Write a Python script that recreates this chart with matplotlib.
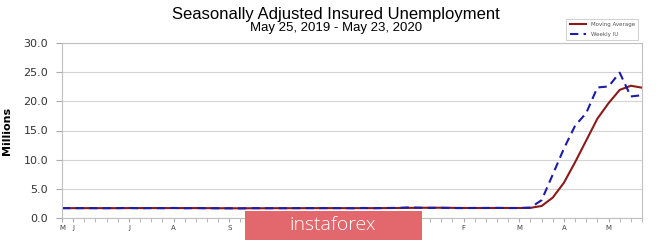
import matplotlib.pyplot as plt
from matplotlib.patches import Rectangle
import numpy as np

# weekly values, week ending May 25 2019 .. May 23 2020 (millions)
weekly_iu = [1.695, 1.688, 1.695, 1.686, 1.686, 1.698, 1.723, 1.676, 1.699, 1.684,
             1.726, 1.674, 1.698, 1.676, 1.670, 1.661, 1.650, 1.689, 1.684, 1.679,
             1.682, 1.690, 1.692, 1.689, 1.698, 1.693, 1.667, 1.722, 1.678, 1.722,
             1.728, 1.806, 1.765, 1.731, 1.747, 1.703, 1.698, 1.726, 1.724, 1.733,
             1.703, 1.702, 1.784, 3.059, 7.446, 11.914, 15.819, 17.992, 22.377, 22.548,
             24.912, 20.838, 21.052]
moving_avg = [1.69, 1.69, 1.69, 1.69, 1.69, 1.69, 1.70, 1.70, 1.70, 1.70,
              1.70, 1.70, 1.70, 1.69, 1.68, 1.67, 1.66, 1.67, 1.67, 1.68,
              1.68, 1.68, 1.69, 1.69, 1.69, 1.69, 1.69, 1.69, 1.69, 1.70,
              1.71, 1.73, 1.75, 1.76, 1.76, 1.74, 1.72, 1.71, 1.71, 1.72,
              1.72, 1.72, 1.74, 2.06, 3.50, 6.05, 9.56, 13.29, 17.03, 19.68,
              21.96, 22.67, 22.34]
weeks = np.arange(len(weekly_iu))

# first week of each month gets a letter (O..J sit under the watermark)
month_weeks = [0, 1, 6, 10, 15, 19, 23, 28, 32, 36, 41, 45, 49]
month_letters = ['M', 'J', 'J', 'A', 'S', '', '', '', '', 'F', 'M', 'A', 'M']
y_ticks = [0, 5, 10, 15, 20, 25, 30]

fig = plt.figure(figsize=(6.65, 2.42), dpi=100)
ax = fig.add_axes([62/665, 1 - 218/242, 580/665, 175/242])

ax.plot(weeks, moving_avg, color='#8b1a1a', lw=1.5, label='Moving Average')
ax.plot(weeks, weekly_iu, color='#1c1ca8', lw=1.5, ls=(0, (4, 2.5)), label='Weekly IU')

ax.set_xlim(0, 52)
ax.set_ylim(0, 30)
ax.set_yticks(y_ticks)
ax.set_yticklabels(['%.1f' % v for v in y_ticks], fontsize=8, color='#333333')
ax.set_xticks(month_weeks)
ax.set_xticklabels(month_letters, fontsize=5, color='#444444')
ax.set_xticks(weeks, minor=True)
ax.tick_params(axis='x', which='both', length=3, color='#aaaaaa', pad=2)
ax.tick_params(axis='y', length=4, color='#aaaaaa', pad=6)
ax.grid(axis='y', color='#d4d4d4', lw=0.8)
ax.set_axisbelow(True)
for s in ax.spines.values():
    s.set_color('#c0c0c0')
    s.set_linewidth(0.8)

ax.set_ylabel('Millions', fontsize=8, fontweight='bold', labelpad=8)

fig.text(0.505, 1 - 14/242, 'Seasonally Adjusted Insured Unemployment',
         ha='center', va='center', fontsize=12, family='Liberation Sans')
fig.text(0.505, 1 - 28/242, 'May 25, 2019 - May 23, 2020',
         ha='center', va='center', fontsize=9.5, family='Liberation Sans')

leg = fig.legend(loc='upper right', bbox_to_anchor=(641/665, 1 - 16/242),
                 fontsize=4, frameon=True, fancybox=False, handlelength=3,
                 borderpad=0.6, labelspacing=0.9, labelcolor='#555555')
leg.get_frame().set_edgecolor('#bbbbbb')
leg.get_frame().set_linewidth(0.6)

# watermark box
fig.patches.append(Rectangle((245/665, 2/242), 177/665, 29/242, transform=fig.transFigure,
                             facecolor='#e2686d', edgecolor='none', zorder=10))
fig.text(333/665, 1 - 225/242, 'instaforex', ha='center', va='center', color='white',
         fontsize=14, family='Open Sans', fontweight='light', zorder=11)

fig.savefig('out.png', dpi=100)
